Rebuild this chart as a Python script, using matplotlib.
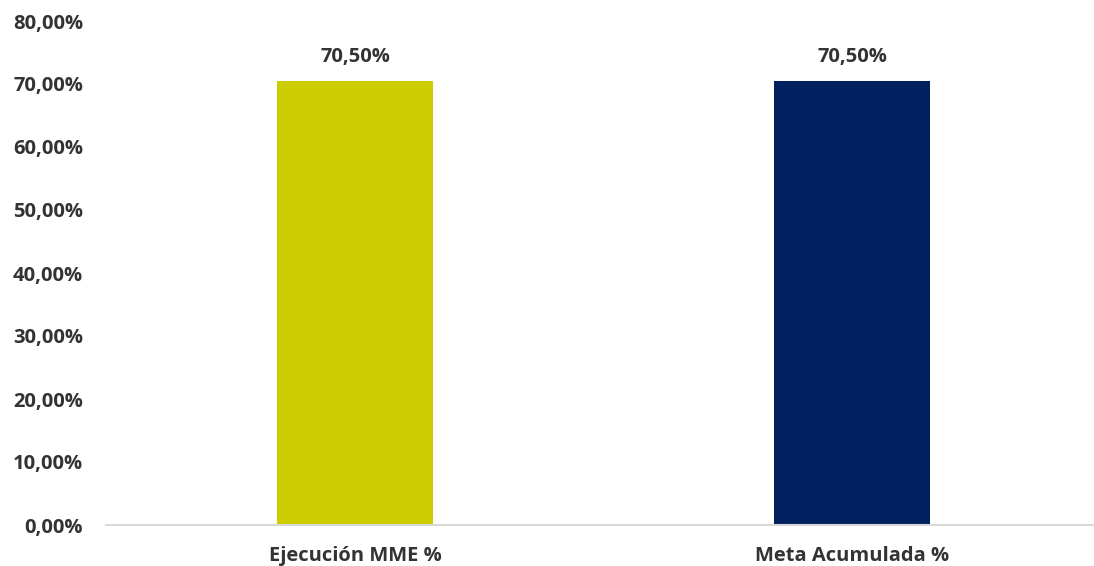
import matplotlib.pyplot as plt
from matplotlib.ticker import FuncFormatter

categories = ["Ejecución MME %", "Meta Acumulada %"]
values = [70.50, 70.50]
colors = ["#CCCC00", "#002060"]
value_labels = ["70,50%", "70,50%"]

plt.rcParams['font.family'] = ['Open Sans', 'DejaVu Sans']
text_color = "#333333"
fsize = 14.5

fig = plt.figure(figsize=(10.94, 5.66), dpi=100)
ax = fig.add_axes([106.5 / 1094, 41 / 566, (1094 - 106.5) / 1094, 504 / 566])

x = range(len(categories))
bars = ax.bar(x, values, width=0.314, color=colors)

for b, lab in zip(bars, value_labels):
    ax.annotate(lab, (b.get_x() + b.get_width() / 2, b.get_height()),
                xytext=(0, 13.7), textcoords="offset points", ha="center", va="baseline",
                fontsize=fsize, fontweight="bold", color=text_color)

ax.set_xlim(-0.5, 1.487)
ax.set_ylim(0, 80)
ax.set_yticks(range(0, 81, 10))
ax.yaxis.set_major_formatter(FuncFormatter(lambda v, p: f"{v:.2f}%".replace(".", ",")))
ax.set_xticks(list(x))
ax.set_xticklabels(categories)

for lab in ax.get_yticklabels() + ax.get_xticklabels():
    lab.set_fontweight("bold")
    lab.set_color(text_color)
    lab.set_fontsize(fsize)

ax.tick_params(axis="y", length=0, pad=17)
ax.tick_params(axis="x", length=0, pad=15)

for s in ["top", "right", "left"]:
    ax.spines[s].set_visible(False)
ax.spines["bottom"].set_color("#D9D9D9")
ax.spines["bottom"].set_linewidth(1.5)

fig.savefig("out.png", dpi=100)
